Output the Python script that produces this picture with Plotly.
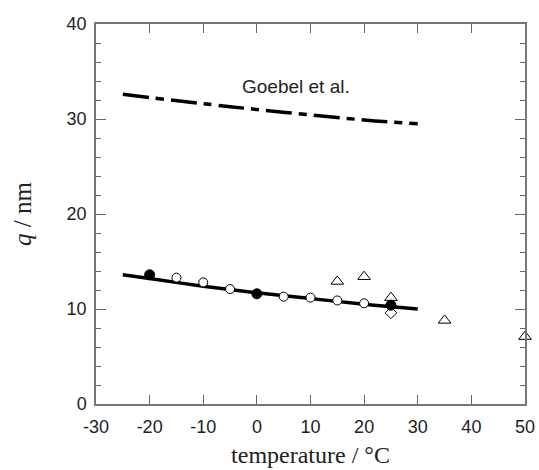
import plotly.graph_objects as go

# Fitted curve (solid) and Goebel et al. curve (dash-dot)
fit_t = [-25, -20, -10, 0, 10, 20, 30]
fit_q = [13.6, 13.2, 12.4, 11.7, 11.1, 10.5, 10.0]
goebel_t = [-25, -5, 20, 30]
goebel_q = [32.6, 31.3, 29.9, 29.5]

# Measured points
filled_t = [-20, 0, 25]
filled_q = [13.6, 11.6, 10.4]
open_t = [-15, -10, -5, 5, 10, 15, 20]
open_q = [13.3, 12.8, 12.1, 11.3, 11.2, 10.9, 10.6]
tri_t = [15, 20, 25, 35, 50]
tri_q = [12.9, 13.4, 11.2, 8.8, 7.1]
dia_t = [25]
dia_q = [9.6]

# Tick labels (plain hyphen for negatives)
x_ticks = [-30, -20, -10, 0, 10, 20, 30, 40, 50]
x_ticklabels = ["-30", "-20", "-10", "0", "10", "20", "30", "40", "50"]
y_ticks = [0, 10, 20, 30, 40]
y_ticklabels = ["0", "10", "20", "30", "40"]

fig = go.Figure()
fig.add_trace(go.Scatter(x=goebel_t, y=goebel_q, mode="lines", line_shape="spline",
                         line=dict(color="black", width=3.5, dash="26px,7px,8px,7px")))
fig.add_trace(go.Scatter(x=fit_t, y=fit_q, mode="lines", line_shape="spline",
                         line=dict(color="black", width=3.5)))
fig.add_trace(go.Scatter(x=open_t, y=open_q, mode="markers", cliponaxis=False,
                         marker=dict(symbol="circle", size=9, color="white",
                                     line=dict(color="black", width=1))))
fig.add_trace(go.Scatter(x=tri_t, y=tri_q, mode="markers", cliponaxis=False,
                         marker=dict(symbol="triangle-up-open", size=11, color="black",
                                     line=dict(width=1))))
fig.add_trace(go.Scatter(x=dia_t, y=dia_q, mode="markers", cliponaxis=False,
                         marker=dict(symbol="diamond-open", size=9, color="black",
                                     line=dict(width=1))))
fig.add_trace(go.Scatter(x=filled_t, y=filled_q, mode="markers", cliponaxis=False,
                         marker=dict(symbol="circle", size=10, color="black",
                                     line=dict(color="black", width=1))))

fig.add_annotation(x=7.3, y=33.4, text="Goebel et al.", showarrow=False,
                   font=dict(family="Liberation Sans, Arial", size=19, color="#222"))

axis_common = dict(showgrid=False, zeroline=False, showline=True, linecolor="#777",
                   linewidth=1.5, mirror="ticks", ticks="inside", tickcolor="#666",
                   tickwidth=1.2, automargin=False,
                   tickfont=dict(family="Liberation Sans, Arial", size=18, color="#222"))

fig.update_xaxes(range=[-30, 50], tickmode="array", tickvals=x_ticks,
                 ticktext=x_ticklabels, ticklen=9, ticklabelstandoff=6,
                 title=dict(text="temperature / °C", standoff=10,
                            font=dict(family="Liberation Serif, Times New Roman",
                                      size=24, color="#222")),
                 **axis_common)
fig.update_yaxes(range=[0, 40], tickmode="array", tickvals=y_ticks,
                 ticktext=y_ticklabels, ticklen=10, ticklabelstandoff=4,
                 minor=dict(tickmode="linear", tick0=0, dtick=2, ticklen=5,
                            ticks="inside", tickcolor="#666", tickwidth=1.2),
                 title=dict(text="<i>q</i> / nm", standoff=28,
                            font=dict(family="Liberation Serif, Times New Roman",
                                      size=25, color="#222")),
                 **axis_common)

fig.update_layout(width=539, height=470, margin=dict(l=96, r=14, t=24, b=66),
                  paper_bgcolor="white", plot_bgcolor="white", showlegend=False)

fig.write_html("out.html")
